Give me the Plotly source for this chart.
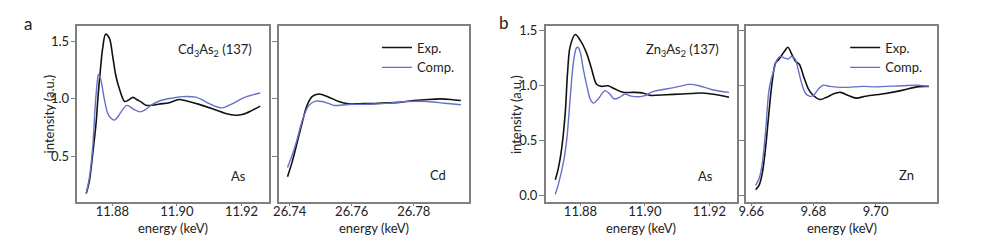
import plotly.graph_objects as go

# ---------------- data ----------------
# Panel a, As K-edge (Cd3As2)
a_as_exp_E = [11.8719, 11.8729, 11.8739, 11.8750, 11.8755, 11.8763, 11.8770, 11.8779, 11.8791, 11.8801,
              11.8811, 11.8822, 11.8838, 11.8850, 11.8864, 11.8878, 11.8890, 11.8904, 11.8925, 11.8946,
              11.8976, 11.9007, 11.9040, 11.9069, 11.9110, 11.9151, 11.9182, 11.9205, 11.9230, 11.9258]
a_as_exp_I = [0.172, 0.286, 0.515, 0.800, 1.000, 1.257, 1.443, 1.566, 1.529, 1.372,
              1.200, 1.086, 0.977, 0.990, 1.013, 0.990, 0.972, 0.945, 0.945, 0.955,
              0.966, 0.995, 0.975, 0.952, 0.914, 0.872, 0.857, 0.865, 0.895, 0.937]
a_as_comp_E = [11.8719, 11.8729, 11.8739, 11.8747, 11.8753, 11.8757, 11.8765, 11.8775, 11.8786, 11.8796,
               11.8806, 11.8816, 11.8827, 11.8845, 11.8866, 11.8886, 11.8902, 11.8919, 11.8950, 11.8991,
               11.9017, 11.9058, 11.9080, 11.9099, 11.9140, 11.9171, 11.9212, 11.9258]
a_as_comp_I = [0.172, 0.314, 0.571, 0.943, 1.143, 1.214, 1.157, 1.000, 0.871, 0.830,
               0.814, 0.840, 0.886, 0.943, 0.909, 0.886, 0.905, 0.943, 0.986, 1.009,
               1.020, 1.015, 0.990, 0.960, 0.921, 0.957, 1.015, 1.051]

# Panel a, Cd K-edge
a_cd_exp_E = [26.7393, 26.7409, 26.7425, 26.7441, 26.7456, 26.7472, 26.7494, 26.7526, 26.7558, 26.7589,
              26.7630, 26.7675, 26.7720, 26.7760, 26.7800, 26.7845, 26.7888, 26.7920, 26.7952]
a_cd_exp_I = [0.320, 0.458, 0.629, 0.800, 0.943, 1.020, 1.043, 1.015, 0.977, 0.957,
              0.958, 0.960, 0.965, 0.972, 0.985, 0.995, 1.000, 0.995, 0.986]
a_cd_comp_E = [26.7393, 26.7409, 26.7425, 26.7441, 26.7462, 26.7483, 26.7504, 26.7525, 26.7542, 26.7589,
               26.7630, 26.7675, 26.7730, 26.7781, 26.7845, 26.7900, 26.7952]
a_cd_comp_I = [0.400, 0.515, 0.657, 0.815, 0.943, 0.980, 0.977, 0.960, 0.943, 0.951,
               0.952, 0.955, 0.965, 0.977, 0.977, 0.962, 0.949]

# Panel b, As K-edge (Zn3As2)
b_as_exp_E = [11.8722, 11.8732, 11.8742, 11.8753, 11.8760, 11.8768, 11.8784, 11.8799, 11.8819, 11.8835,
              11.8850, 11.8866, 11.8886, 11.8907, 11.8932, 11.8963, 11.8994, 11.9014, 11.9066, 11.9117,
              11.9148, 11.9178, 11.9219, 11.9261]
b_as_exp_I = [0.144, 0.257, 0.435, 0.762, 1.119, 1.356, 1.466, 1.415, 1.297, 1.148,
              1.014, 0.994, 1.000, 0.970, 0.940, 0.940, 0.934, 0.913, 0.918, 0.925,
              0.930, 0.934, 0.920, 0.896]
b_as_comp_E = [11.8722, 11.8732, 11.8748, 11.8758, 11.8768, 11.8778, 11.8787, 11.8792, 11.8799, 11.8809,
               11.8822, 11.8830, 11.8840, 11.8855, 11.8876, 11.8891, 11.8904, 11.8922, 11.8938, 11.8958,
               11.8994, 11.9025, 11.9066, 11.9107, 11.9138, 11.9168, 11.9209, 11.9261]
b_as_comp_I = [0.013, 0.109, 0.316, 0.524, 0.880, 1.208, 1.341, 1.350, 1.310, 1.148,
               0.970, 0.880, 0.842, 0.880, 0.955, 0.925, 0.880, 0.896, 0.925, 0.905,
               0.905, 0.947, 0.970, 0.994, 1.012, 1.000, 0.964, 0.940]

# Panel b, Zn K-edge
b_zn_exp_E = [9.6614, 9.6625, 9.6635, 9.6646, 9.6656, 9.6667, 9.6678, 9.6688, 9.6699, 9.6710,
              9.6718, 9.6731, 9.6742, 9.6755, 9.6768, 9.6784, 9.6800, 9.6821, 9.6843, 9.6864,
              9.6887, 9.6912, 9.6938, 9.6968, 9.7032, 9.7085, 9.7138, 9.7171]
b_zn_exp_I = [0.055, 0.094, 0.198, 0.435, 0.733, 1.030, 1.208, 1.237, 1.282, 1.326,
              1.350, 1.282, 1.223, 1.193, 1.089, 0.970, 0.911, 0.875, 0.896, 0.925,
              0.940, 0.911, 0.887, 0.905, 0.930, 0.958, 0.992, 0.994]
b_zn_comp_E = [9.6614, 9.6625, 9.6635, 9.6646, 9.6656, 9.6664, 9.6672, 9.6683, 9.6694, 9.6707,
               9.6718, 9.6731, 9.6742, 9.6752, 9.6763, 9.6774, 9.6787, 9.6800, 9.6816, 9.6832,
               9.6853, 9.6896, 9.6960, 9.7000, 9.7085, 9.7138, 9.7171]
b_zn_comp_I = [0.094, 0.153, 0.287, 0.584, 0.940, 1.059, 1.134, 1.237, 1.267, 1.252,
               1.243, 1.267, 1.237, 1.134, 1.014, 0.934, 0.905, 0.911, 0.970, 1.005,
               0.994, 0.985, 0.994, 0.990, 1.000, 1.005, 0.994]

series_names = ["Exp.", "Comp."]
a_x_ticks = [11.88, 11.90, 11.92]
cd_x_ticks = [26.74, 26.76, 26.78]
zn_x_ticks = [9.66, 9.68, 9.70]
a_y_ticks = [0.5, 1.0, 1.5]
b_y_ticks = [0.0, 0.5, 1.0, 1.5]

# ---------------- style ----------------
W, H = 981, 243
OFF = 8  # page body margin that precedes the figure
BLACK = "#111111"
BLUE = "#6670c6"
FRAME = "#808080"
TXT = "#222222"
FONT = "Lato"

def px_x(p):
    return (p - OFF) / W

def px_y(p):
    return 1 - (p - OFF) / H

ydom = [px_y(202), px_y(22.7)]
doms = [[px_x(70), px_x(263)], [px_x(273), px_x(465)],
        [px_x(542), px_x(735)], [px_x(744), px_x(937)]]

fig = go.Figure()

panels = [
    (a_as_exp_E, a_as_exp_I, a_as_comp_E, a_as_comp_I, "x", "y", None),
    (a_cd_exp_E, a_cd_exp_I, a_cd_comp_E, a_cd_comp_I, "x2", "y2", "legend"),
    (b_as_exp_E, b_as_exp_I, b_as_comp_E, b_as_comp_I, "x3", "y3", None),
    (b_zn_exp_E, b_zn_exp_I, b_zn_comp_E, b_zn_comp_I, "x4", "y4", "legend2"),
]
for eE, eI, cE, cI, xa, ya, leg in panels:
    for E, I, name, col, lw in [(eE, eI, series_names[0], BLACK, 1.6),
                                (cE, cI, series_names[1], BLUE, 1.4)]:
        fig.add_trace(go.Scatter(
            x=E, y=I, mode="lines", name=name,
            line=dict(color=col, width=lw, shape="spline", smoothing=0.9),
            xaxis=xa, yaxis=ya,
            showlegend=leg is not None,
            legend=leg if leg else "legend",
        ))

def xaxis(dom, rng, ticks, anchor):
    return dict(domain=dom, range=rng, tickvals=ticks, ticktext=[f"{t:.2f}" for t in ticks],
                showline=True, mirror=True, linecolor=FRAME, linewidth=1.5,
                ticks="outside", ticklen=2, tickwidth=1.2, tickcolor=FRAME,
                showgrid=False, zeroline=False, anchor=anchor, ticklabelstandoff=-5,
                tickfont=dict(family=FONT, size=13, color=TXT))

def yaxis(rng, ticks, anchor, labels):
    return dict(domain=ydom, range=rng, tickvals=ticks,
                ticktext=[f"{t:.1f}" for t in ticks],
                showticklabels=labels,
                showline=True, mirror=True, linecolor=FRAME, linewidth=1.5,
                ticks="outside", ticklen=5, tickwidth=1.2, tickcolor=FRAME,
                showgrid=False, zeroline=False, anchor=anchor, ticklabelstandoff=-1,
                tickfont=dict(family=FONT, size=13, color=TXT))

a_yr = [0.098, 1.634]
b_yr = [-0.058, 1.540]

fig.update_layout(
    width=W, height=H,
    margin=dict(l=0, r=0, t=0, b=0),
    paper_bgcolor="white", plot_bgcolor="white",
    font=dict(family=FONT, size=13, color=TXT),
    xaxis=xaxis(doms[0], [11.8692, 11.9285], a_x_ticks, "y"),
    yaxis=yaxis(a_yr, a_y_ticks, "x", True),
    xaxis2=xaxis(doms[1], [26.7365, 26.7979], cd_x_ticks, "y2"),
    yaxis2=yaxis(a_yr, a_y_ticks, "x2", False),
    xaxis3=xaxis(doms[2], [11.8692, 11.9286], a_x_ticks, "y3"),
    yaxis3=yaxis(b_yr, b_y_ticks, "x3", True),
    xaxis4=xaxis(doms[3], [9.6583, 9.7199], zn_x_ticks, "y4"),
    yaxis4=yaxis(b_yr, b_y_ticks, "x4", False),
    legend=dict(x=px_x(372), y=px_y(29), xanchor="left", yanchor="top",
                bgcolor="rgba(0,0,0,0)", font=dict(family=FONT, size=13, color=TXT),
                tracegroupgap=0, itemwidth=30),
    legend2=dict(x=px_x(844), y=px_y(29), xanchor="left", yanchor="top",
                 bgcolor="rgba(0,0,0,0)", font=dict(family=FONT, size=13, color=TXT),
                 tracegroupgap=0, itemwidth=30),
)

def ann(text, x, y, size=13, xanchor="center", yanchor="middle", angle=0):
    fig.add_annotation(text=text, x=px_x(x), y=px_y(y), xref="paper", yref="paper",
                       showarrow=False, xanchor=xanchor, yanchor=yanchor, textangle=angle,
                       font=dict(family=FONT, size=size, color=TXT))

ann("a", 20.5, 20, size=17)
ann("b", 500, 19, size=17)
ann("Cd<sub>3</sub>As<sub>2</sub> (137)", 248, 47.3, xanchor="right")
ann("Zn<sub>3</sub>As<sub>2</sub> (137)", 719, 47.3, xanchor="right")
ann("As", 242, 175, xanchor="right")
ann("Cd", 443.5, 174, xanchor="right")
ann("As", 713, 175, xanchor="right")
ann("Zn", 915, 174, xanchor="right")
for cx in [166.5, 369, 638.5, 840.5]:
    ann("energy (keV)", cx, 228.5)
ann("intensity (a.u.)", 41.5, 112.3, angle=-90)
ann("intensity (a.u.)", 512, 112.3, angle=-90)

fig.write_html("out.html")
